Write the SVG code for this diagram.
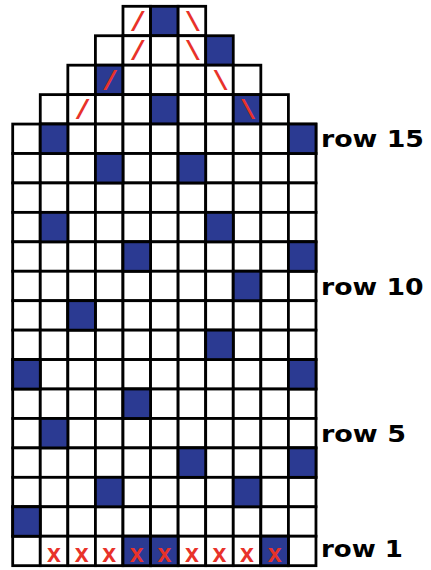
<svg xmlns="http://www.w3.org/2000/svg" width="431" height="570" viewBox="0 0 431 570">
<style>
.cell{stroke:#000;stroke-width:2.8}
.w{fill:#fff}
.b{fill:#2b3a92}
.sl{font-family:"Liberation Mono",monospace;font-weight:bold;font-size:27px;fill:#e8322a;text-anchor:middle}
.x{font-family:"Liberation Sans",Arial,sans-serif;font-weight:bold;font-size:25px;fill:#e8322a;text-anchor:middle}
.lbl{font-family:"DejaVu Sans",Verdana,sans-serif;font-weight:bold;font-size:23.5px;fill:#000}
</style>
<defs>
<rect id="c" class="cell" width="27.57" height="29.44"/>
<g id="row" class="w">
<use href="#c" x="12.7"/><use href="#c" x="40.27"/><use href="#c" x="67.84"/><use href="#c" x="95.41"/><use href="#c" x="122.98"/><use href="#c" x="150.55"/><use href="#c" x="178.12"/><use href="#c" x="205.69"/><use href="#c" x="233.26"/><use href="#c" x="260.83"/><use href="#c" x="288.4"/>
</g>
</defs>
<rect width="431" height="570" fill="#fff"/>
<g id="top-rows">
<g id="row19" transform="translate(0,6.3)">
<use href="#c" class="w" x="122.98"/><use href="#c" class="b" x="150.55"/><use href="#c" class="w" x="178.12"/>
</g>
<g id="row18" transform="translate(0,35.74)">
<use href="#c" class="w" x="95.41"/><use href="#c" class="w" x="122.98"/><use href="#c" class="w" x="150.55"/><use href="#c" class="w" x="178.12"/><use href="#c" class="b" x="205.69"/>
</g>
<g id="row17" transform="translate(0,65.18)">
<use href="#c" class="w" x="67.84"/><use href="#c" class="b" x="95.41"/><use href="#c" class="w" x="122.98"/><use href="#c" class="w" x="150.55"/><use href="#c" class="w" x="178.12"/><use href="#c" class="w" x="205.69"/><use href="#c" class="w" x="233.26"/>
</g>
<g id="row16" transform="translate(0,94.62)">
<use href="#c" class="w" x="40.27"/><use href="#c" class="w" x="67.84"/><use href="#c" class="w" x="95.41"/><use href="#c" class="w" x="122.98"/><use href="#c" class="b" x="150.55"/><use href="#c" class="w" x="178.12"/><use href="#c" class="w" x="205.69"/><use href="#c" class="b" x="233.26"/><use href="#c" class="w" x="260.83"/>
</g>
</g>
<g id="body">
<use href="#row" y="124.06"/><use href="#row" y="153.5"/><use href="#row" y="182.94"/><use href="#row" y="212.38"/><use href="#row" y="241.82"/><use href="#row" y="271.26"/><use href="#row" y="300.7"/><use href="#row" y="330.14"/><use href="#row" y="359.58"/><use href="#row" y="389.02"/><use href="#row" y="418.46"/><use href="#row" y="447.9"/><use href="#row" y="477.34"/><use href="#row" y="506.78"/><use href="#row" y="536.22"/>
</g>
<g id="blue-cells" class="b">
<use href="#c" x="40.27" y="124.06"/><use href="#c" x="288.4" y="124.06"/>
<use href="#c" x="95.41" y="153.5"/><use href="#c" x="178.12" y="153.5"/>
<use href="#c" x="40.27" y="212.38"/><use href="#c" x="205.69" y="212.38"/>
<use href="#c" x="122.98" y="241.82"/><use href="#c" x="288.4" y="241.82"/>
<use href="#c" x="233.26" y="271.26"/>
<use href="#c" x="67.84" y="300.7"/>
<use href="#c" x="205.69" y="330.14"/>
<use href="#c" x="12.7" y="359.58"/><use href="#c" x="288.4" y="359.58"/>
<use href="#c" x="122.98" y="389.02"/>
<use href="#c" x="40.27" y="418.46"/>
<use href="#c" x="178.12" y="447.9"/><use href="#c" x="288.4" y="447.9"/>
<use href="#c" x="95.41" y="477.34"/><use href="#c" x="233.26" y="477.34"/>
<use href="#c" x="12.7" y="506.78"/>
<use href="#c" x="122.98" y="536.22"/><use href="#c" x="150.55" y="536.22"/><use href="#c" x="260.83" y="536.22"/>
</g>
<g id="decreases">
<text class="sl" x="137.8" y="31">/</text><text class="sl" x="192.9" y="31">\</text>
<text class="sl" x="137.8" y="60.4">/</text><text class="sl" x="192.9" y="60.4">\</text>
<text class="sl" x="110.2" y="89.9">/</text><text class="sl" x="220.5" y="89.9">\</text>
<text class="sl" x="82.6" y="119.3">/</text><text class="sl" x="248" y="119.3">\</text>
</g>
<g id="cast-on-marks">
<text class="x" x="54.06" y="561.7">x</text><text class="x" x="81.63" y="561.7">x</text><text class="x" x="109.2" y="561.7">x</text><text class="x" x="136.77" y="561.7">x</text><text class="x" x="164.34" y="561.7">x</text><text class="x" x="191.91" y="561.7">x</text><text class="x" x="219.48" y="561.7">x</text><text class="x" x="247.05" y="561.7">x</text><text class="x" x="274.62" y="561.7">x</text>
</g>
<g id="labels">
<text class="lbl" x="321" y="146.7" textLength="103" lengthAdjust="spacingAndGlyphs">row 15</text>
<text class="lbl" x="321" y="295" textLength="102.5" lengthAdjust="spacingAndGlyphs">row 10</text>
<text class="lbl" x="321" y="441.7" textLength="85" lengthAdjust="spacingAndGlyphs">row 5</text>
<text class="lbl" x="321" y="556.7" textLength="82" lengthAdjust="spacingAndGlyphs">row 1</text>
</g>
</svg>
